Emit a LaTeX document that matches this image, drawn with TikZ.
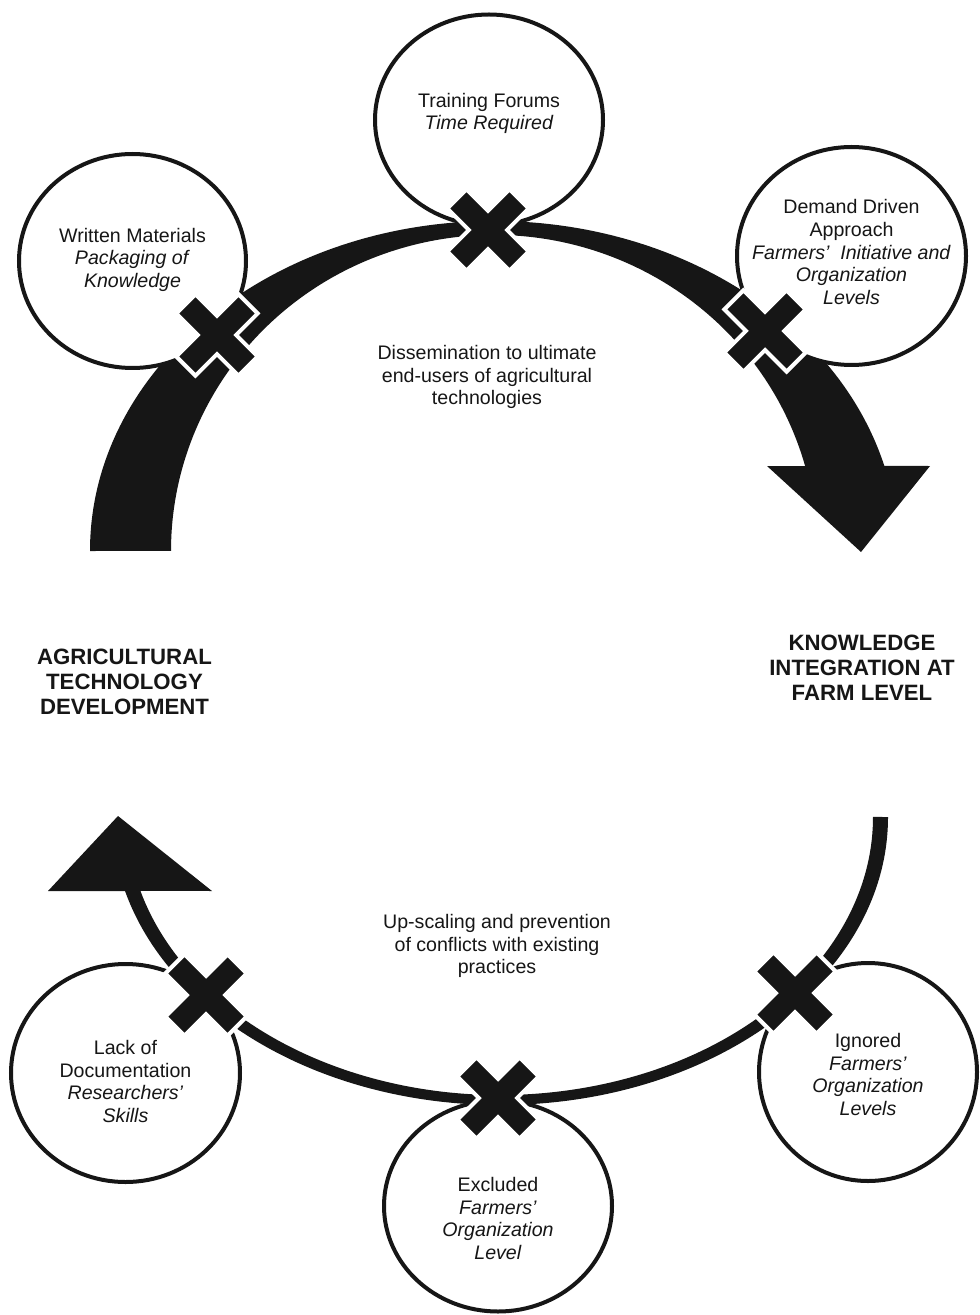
\documentclass[tikz,border=0pt]{standalone}
\usepackage{fontspec}
\setmainfont{Liberation Sans}
\usetikzlibrary{shapes.geometric, positioning}

\definecolor{ink}{HTML}{161616}
\newcommand{\bodysize}{\fontsize{9.8pt}{11.3pt}\selectfont}
\newcommand{\headsize}{\fontsize{11.1pt}{12.5pt}\selectfont\bfseries}

\tikzset{
  barrier/.style={ellipse, draw=ink, fill=white, line width=2pt, inner sep=0pt},
  caption/.style={align=center, text=ink, font=\bodysize},
  heading/.style={align=center, text=ink, font=\headsize},
  xmark/.pic={
    \filldraw[fill=ink, draw=white, line width=2pt, rotate=45]
      (13.5,13.5) -- (44,13.5) -- (44,-13.5) -- (13.5,-13.5) -- (13.5,-44) -- (-13.5,-44)
      -- (-13.5,-13.5) -- (-44,-13.5) -- (-44,13.5) -- (-13.5,13.5) -- (-13.5,44)
      -- (13.5,44) -- cycle;
  }
}

\begin{document}
\begin{tikzpicture}[x=0.5pt, y=0.5pt]
  \useasboundingbox (0,0) rectangle (979,-1315);

  % upper band with its arrowhead
  \fill[ink] (90,-551) arc[start angle=180, end angle=14.93, x radius=404, y radius=330]
    -- (930,-466) -- (861,-552) -- (767,-466)
    -- (805.1,-466) arc[start angle=15.6, end angle=180, x radius=323, y radius=316] -- cycle;

  % lower band with its arrowhead
  \fill[ink] (888,-817) arc[start angle=0, end angle=-165.1, x radius=388, y radius=288]
    -- (48,-891) -- (118,-816) -- (212,-891)
    -- (140.4,-890.8) arc[start angle=-164.6, end angle=0, x radius=373, y radius=278] -- cycle;

  \node[barrier, minimum width=114pt, minimum height=105.5pt] (tf) at (489,-120) {};
  \node[barrier, minimum width=113.5pt, minimum height=107pt] (wm) at (132.5,-261) {};
  \node[barrier, minimum width=114.5pt, minimum height=109pt] (dd) at (851.5,-256) {};
  \node[barrier, minimum width=114.5pt, minimum height=109pt] (ld) at (125.5,-1073) {};
  \node[barrier, minimum width=114pt, minimum height=105.5pt] (ex) at (498,-1206) {};
  \node[barrier, minimum width=109pt, minimum height=109pt] (ig) at (868,-1072) {};

  \node[caption] (tflbl) at ([yshift=3.2pt]tf.center) {Training Forums\\\textit{Time Required}};
  \node[caption] (wmlbl) at ([yshift=0.6pt]wm.center)
    {Written Materials\\\textit{Packaging of}\\\textit{Knowledge}};
  \node[caption] (ddlbl) at ([yshift=2pt]dd.center)
    {Demand Driven\\Approach\\\textit{Farmers’\ \ Initiative and}\\\textit{Organization}\\\textit{Levels}};
  \node[caption] (ldlbl) at ([yshift=-4.2pt]ld.center)
    {Lack of\\Documentation\\\textit{Researchers’}\\\textit{Skills}};
  \node[caption] (exlbl) at ([yshift=-6.2pt]ex.center)
    {Excluded\\\textit{Farmers’}\\\textit{Organization}\\\textit{Level}};
  \node[caption] (iglbl) at ([yshift=-1.2pt]ig.center)
    {Ignored\\\textit{Farmers’}\\\textit{Organization}\\\textit{Levels}};

  \pic at (488,-230) {xmark};
  \pic at (217,-335) {xmark};
  \pic at (765,-331) {xmark};
  \pic at (206,-995) {xmark};
  \pic at (498,-1098) {xmark};
  \pic at (795,-993) {xmark};

  \node[caption] (diss) at (487,-377)
    {Dissemination to ultimate\\end-users of agricultural\\technologies};
  \node[caption] (upsc) at (497,-946)
    {Up-scaling and prevention\\of conflicts with existing\\practices};
  \node[heading] (atd) at (124.5,-682) {AGRICULTURAL\\TECHNOLOGY\\DEVELOPMENT};
  \node[heading] (kif) at (862,-668) {KNOWLEDGE\\INTEGRATION AT\\FARM LEVEL};
\end{tikzpicture}
\end{document}
